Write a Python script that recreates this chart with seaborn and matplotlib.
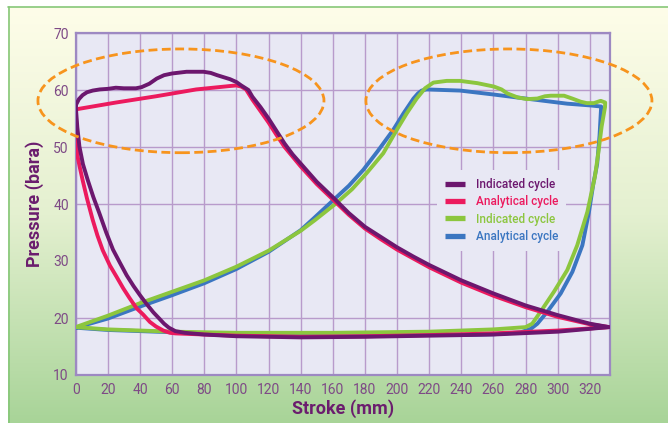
import numpy as np
import pandas as pd
import matplotlib
matplotlib.use("Agg")
import matplotlib.pyplot as plt
import seaborn as sns
from matplotlib.patches import Ellipse
from matplotlib.colors import LinearSegmentedColormap
from matplotlib.lines import Line2D

# ---------------- data ----------------
# Cycle 1: indicated (purple)
ind1_x = [0, 2, 4.3, 7, 10.6, 15, 20, 25, 30, 37.5, 41, 45.8, 50.4, 55, 60, 69, 79.5, 84, 88, 96, 100, 103,
          107.5, 110, 115, 120, 125, 130, 135, 140, 150, 160, 170, 180, 190, 200, 210, 220, 240, 260, 280, 300,
          320, 332,
          300, 260, 220, 180, 140, 100, 80, 68, 62, 58, 55, 52, 48.3, 44, 40, 36, 31.7, 27.5, 23.2, 19, 14.7,
          11, 7.5, 4.5, 2.3, 1.0, 0]
ind1_y = [57.3, 58.4, 59.1, 59.6, 59.9, 60.1, 60.2, 60.4, 60.3, 60.3, 60.5, 61.1, 62.0, 62.6, 62.9, 63.2, 63.2,
          63.0, 62.6, 61.9, 61.4, 60.8,
          60.0, 58.8, 57.0, 55.0, 52.8, 50.6, 48.7, 47.1, 43.9, 41.2, 38.4, 36.0, 34.2, 32.4, 30.8, 29.3, 26.6,
          24.3, 22.2, 20.5, 19.0, 18.4,
          17.6, 17.1, 16.9, 16.7, 16.6, 16.8, 17.1, 17.4, 17.7, 18.3, 19.0, 19.9, 21.0, 22.5, 24.0, 25.6, 27.5,
          29.7, 32.0, 35.0, 38.4, 41.2, 44.2, 47.0, 50.1, 53.5, 57.3]

# Cycle 1: analytical (red)
an1_x = [0, 25, 50, 75, 96, 100, 103, 106, 110, 115, 120, 125, 130, 140, 150, 160, 170, 180, 190, 200, 220,
         240, 260, 280, 300, 320, 332,
         300, 260, 220, 180, 140, 100, 80, 62, 58.7, 54.5, 50, 46.2, 42, 37.9, 33.5, 29.6, 25.5, 21.3, 16.8,
         13.5, 10.6, 7, 4.3, 2.5, 1.2, 0.6, 0]
an1_y = [56.6, 57.8, 58.9, 60.1, 60.7, 60.8, 60.6, 60.1, 58.3, 56.3, 54.3, 52.1, 50.0, 46.6, 43.5, 40.8, 38.1,
         35.7, 33.8, 32.0, 28.9, 26.2, 23.9, 21.9, 20.2, 18.9, 18.4,
         17.8, 17.3, 17.0, 16.8, 16.7, 16.9, 17.1, 17.3, 17.4, 17.8, 18.5, 19.3, 20.6, 21.7, 23.5, 25.2, 27.2,
         29.2, 31.9, 34.5, 37.2, 41.0, 44.2, 46.5, 48.3, 52.5, 56.6]

# Cycle 2: indicated (green)
ind2_x = [0, 20, 40, 60, 80, 100, 120, 140, 149, 162, 172, 181, 191.4, 199.8, 206, 212.2, 217.4, 222.6, 230.9,
          239.2, 250, 260.3, 265, 268.6, 275, 281, 287.3, 292, 295.6, 303.9, 309, 314.2, 318, 322.5, 326.7,
          329.5, 329.4, 327.3, 325.2, 323.1, 318.4, 312.1, 305.9, 297.6, 289.3, 284.1, 280,
          260, 220, 160, 100, 60, 20, 0]
ind2_y = [18.4, 20.4, 22.6, 24.6, 26.6, 29.0, 31.8, 35.3, 37.2, 40.1, 42.6, 45.4, 48.9, 53.0, 55.9, 58.5, 60.3,
          61.3, 61.6, 61.6, 61.2, 60.6, 60.1, 59.4, 58.7, 58.4, 58.5, 58.9, 59.0, 59.0, 58.5, 57.95, 57.7, 57.7,
          58.1, 57.8, 57.0, 53.6, 48.9, 44.8, 38.6, 32.75, 28.4, 24.6, 21.1, 19.0, 18.4,
          18.0, 17.6, 17.4, 17.4, 17.6, 18.0, 18.4]

# Cycle 2: analytical (blue)
an2_x = [0, 20, 40, 60, 80, 100, 120, 140, 147.8, 160, 170, 179, 188, 197.6, 204, 210.2, 213, 215.3, 218.4,
         239.2, 260.3, 280, 305.9, 320, 327,
         326, 324.5, 322.1, 319.4, 315.3, 309.1, 301.8, 293.5, 287.3, 283.2, 277,
         260.3, 239.6, 220.9, 160.7, 100, 60, 20, 0]
an2_y = [18.3, 19.9, 22.0, 24.0, 26.1, 28.6, 31.6, 35.4, 37.4, 40.6, 43.2, 46.0, 49.3, 53.0, 55.9, 58.5, 59.4,
         59.9, 60.1, 59.9, 59.2, 58.5, 57.6, 57.3, 57.1,
         52.0, 47.0, 43.5, 38.6, 32.75, 28.1, 24.3, 21.1, 19.0, 18.1, 17.5,
         17.15, 17.0, 17.0, 17.0, 17.2, 17.5, 17.9, 18.3]

legend_labels = ["Indicated cycle", "Analytical cycle", "Indicated cycle", "Analytical cycle"]
x_ticks = list(range(0, 321, 20))
y_ticks = list(range(10, 71, 10))
x_label = "Stroke (mm)"
y_label = "Pressure (bara)"

# ---------------- style ----------------
PURPLE = "#6c176e"
RED = "#ec1a5e"
GREEN = "#8cc63e"
BLUE = "#3b76c1"
ORANGE = "#f7941d"
AX_BG = "#e8e8f4"
GRID = "#b89bcb"
SPINE = "#9d89c2"
TICKC = "#7e4a86"
LABELC = "#6b1d6e"

sns.set_theme(style="white")
plt.rcParams['font.family'] = ['Roboto', 'DejaVu Sans']

W, H = 668, 423
fig = plt.figure(figsize=(W / 100, H / 100), dpi=100)
fig.patch.set_facecolor("white")

# background gradient panel
bg = fig.add_axes([0, 0, 1, 1], zorder=-10)
bg.set_xlim(0, W)
bg.set_ylim(H, 0)
bg.axis("off")
grad = np.linspace(0, 1, 256).reshape(-1, 1)
cmap = LinearSegmentedColormap.from_list("bg", ["#fefde9", "#e4f0d0", "#a8d498"])
bg.imshow(grad, cmap=cmap, extent=[8, W, H, 7], aspect="auto")
bg.plot([8.5, 8.5], [7, H], color="#86c778", lw=1.2)
bg.plot([8, W], [7.2, 7.2], color="#86c778", lw=1.2)

# main axes
L, R, T, B = 75.7, 610, 33, 375
ax = fig.add_axes([L / W, 1 - B / H, (R - L) / W, (B - T) / H])
ax.set_facecolor(AX_BG)

series = [
    (an2_x, an2_y, BLUE, legend_labels[3]),
    (ind2_x, ind2_y, GREEN, legend_labels[2]),
    (an1_x, an1_y, RED, legend_labels[1]),
    (ind1_x, ind1_y, PURPLE, legend_labels[0]),
]
for i, (xs, ys, c, lab) in enumerate(series):
    df = pd.DataFrame({"stroke": xs, "pressure": ys})
    sns.lineplot(data=df, x="stroke", y="pressure", sort=False, estimator=None,
                 color=c, lw=2.8, ax=ax, zorder=3 + i,
                 solid_joinstyle="round", solid_capstyle="round")

ax.set_xlim(0, 332.5)
ax.set_ylim(10, 70)
ax.set_xticks(x_ticks)
ax.set_yticks(y_ticks)
ax.grid(True, color=GRID, lw=1.0, zorder=1)
ax.set_axisbelow(True)
# no horizontal grid line at 30 in the reference
for val, gl in zip(y_ticks, ax.get_ygridlines()):
    if val == 30:
        gl.set_visible(False)

for s in ax.spines.values():
    s.set_color(SPINE)
    s.set_linewidth(1.6)
    s.set_visible(True)

ax.tick_params(axis="both", length=0, labelsize=10, labelcolor=TICKC)
ax.tick_params(axis="y", pad=5)
ax.tick_params(axis="x", pad=5.5)

ax.set_xlabel(x_label, fontsize=13, fontweight="bold", color=LABELC)
ax.set_ylabel(y_label, fontsize=13, fontweight="bold", color=LABELC)
ax.xaxis.set_label_coords(0.5, -0.072)
ax.yaxis.set_label_coords(-0.06, 0.5)

# dashed highlight ellipses
for cx in (65.5, 269.6):
    ax.add_patch(Ellipse((cx, 58.1), 178, 18.2, fill=False, ec=ORANGE, lw=2.0,
                         ls=(0, (3.2, 1.6)), clip_on=False, zorder=8))

# legend
colors = [PURPLE, RED, GREEN, BLUE]
handles = [Line2D([], [], color=c, lw=3.8, solid_capstyle="butt") for c in colors]
leg = ax.legend(handles, legend_labels, loc="upper left", bbox_to_anchor=(0.676, 0.6),
                borderaxespad=0, frameon=True, facecolor=AX_BG, edgecolor="none", framealpha=1,
                prop={"size": 8.5, "weight": "medium"}, handlelength=1.7, handletextpad=0.9,
                labelspacing=0.36, borderpad=0.7, fancybox=False)
leg.set_zorder(7)
for t, c in zip(leg.get_texts(), colors):
    t.set_color(c)

fig.savefig("out.png", dpi=100)
